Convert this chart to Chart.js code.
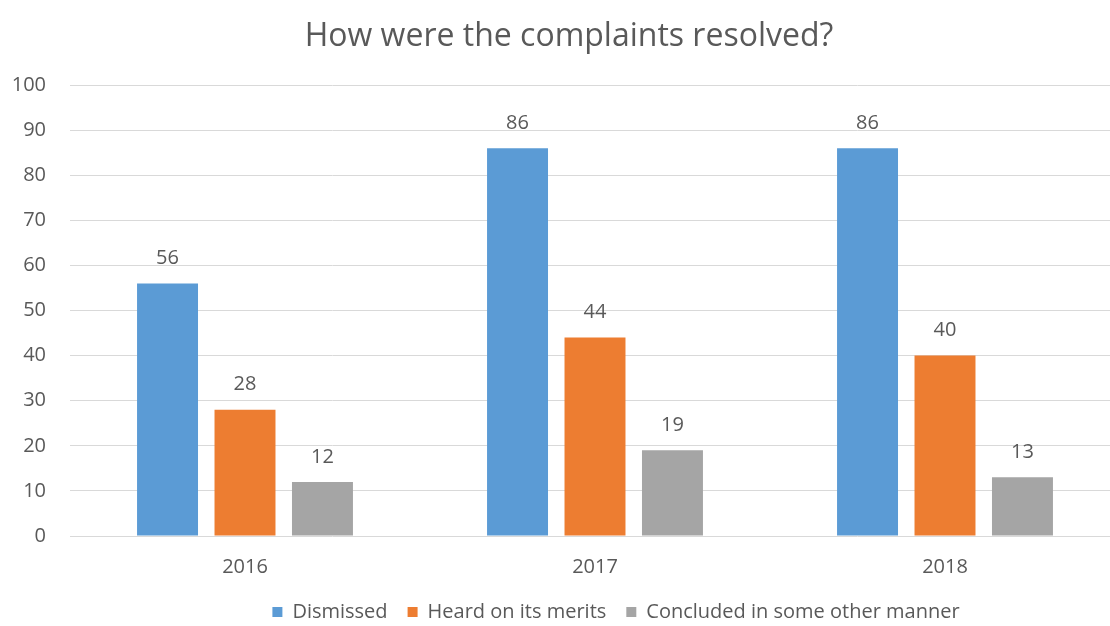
<!DOCTYPE html>
<html>
<head>
<meta charset="utf-8">
<script src="https://cdn.jsdelivr.net/npm/chart.js@4/dist/chart.umd.min.js"></script>
<style>
html,body{margin:0;padding:0;background:#fff;overflow:hidden;width:1110px;height:626px;}
#wrap{width:1120px;height:626px;}
</style>
</head>
<body>
<div id="wrap"><canvas id="c" width="1120" height="626"></canvas></div>
<script>
const categories = ["2016", "2017", "2018"];
const seriesNames = ["Dismissed", "Heard on its merits", "Concluded in some other manner"];
const dismissed = [56, 86, 86];
const heard = [28, 44, 40];
const concluded = [12, 19, 13];
const yTicks = [0, 10, 20, 30, 40, 50, 60, 70, 80, 90, 100];
const colors = ["#5B9BD5", "#ED7D31", "#A5A5A5"];
const FONT = "'Open Sans', sans-serif";
const GRAY = "#595959";

const valueLabels = {
  id: 'valueLabels',
  afterDatasetsDraw(chart) {
    const ctx = chart.ctx;
    ctx.save();
    ctx.font = "20px " + FONT;
    ctx.fillStyle = GRAY;
    ctx.textAlign = 'center';
    ctx.textBaseline = 'middle';
    chart.data.datasets.forEach((ds, i) => {
      const meta = chart.getDatasetMeta(i);
      meta.data.forEach((el, j) => {
        ctx.fillText(String(ds.data[j]), el.x, el.y - 25);
      });
    });
    ctx.restore();
  }
};

// nudge title and legend horizontally to match the reference placement
const boxShift = {
  id: 'boxShift',
  afterLayout(chart) {
    const lg = chart.legend;
    if (lg) { lg.left += 56; lg.right += 56; }
    const tb = chart.titleBlock;
    if (tb) { tb.left += 9; tb.right += 9; }
  }
};

new Chart(document.getElementById('c'), {
  type: 'bar',
  data: {
    labels: categories,
    datasets: [
      { label: seriesNames[0], data: dismissed, backgroundColor: colors[0] },
      { label: seriesNames[1], data: heard, backgroundColor: colors[1] },
      { label: seriesNames[2], data: concluded, backgroundColor: colors[2] }
    ]
  },
  options: {
    responsive: false,
    animation: false,
    devicePixelRatio: 1,
    layout: { padding: { top: 0, right: 0, bottom: -6, left: 0 } },
    datasets: { bar: { categoryPercentage: 0.664, barPercentage: 0.787 } },
    plugins: {
      title: {
        display: true,
        text: "How were the complaints resolved?",
        color: GRAY,
        font: { family: FONT, size: 32, weight: 'normal' },
        padding: { top: 18, bottom: 28.6 }
      },
      legend: {
        display: true,
        position: 'bottom',
        labels: {
          color: GRAY,
          font: { family: FONT, size: 20 },
          boxWidth: 10,
          boxHeight: 10,
          padding: 20
        }
      },
      tooltip: { enabled: false }
    },
    scales: {
      x: {
        afterFit(s) { s.height = 46; },
        grid: { display: false, drawTicks: false },
        border: { display: false },
        ticks: { color: GRAY, font: { family: FONT, size: 20 }, padding: 19 }
      },
      y: {
        min: 0, max: 100,
        afterFit(s) { s.width = 70; },
        afterBuildTicks(s) { s.ticks = yTicks.map(v => ({ value: v })); },
        grid: { color: "#D9D9D9", drawTicks: false, lineWidth: 1 },
        border: { display: false },
        ticks: { color: GRAY, font: { family: FONT, size: 20 }, padding: 24 }
      }
    }
  },
  plugins: [valueLabels, boxShift]
});
</script>
</body>
</html>
